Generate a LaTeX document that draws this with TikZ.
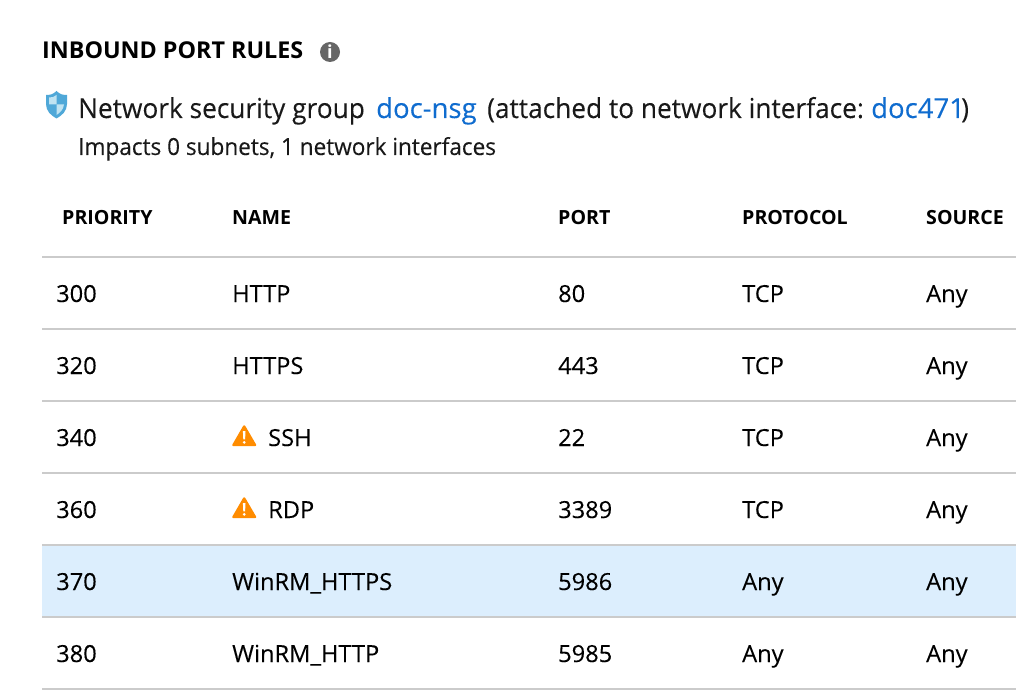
\documentclass[tikz,border=0pt]{standalone}
\usepackage{fontspec}
\setmainfont[FakeStretch=0.96,FakeBold=0.15]{Open Sans}
\newfontfamily\rowf[FakeStretch=1.005,FakeBold=0.15]{Open Sans}
\newfontfamily\hdrf[FakeStretch=1.005]{Open Sans}
\newfontfamily\bigf[FakeStretch=0.955,FakeBold=0.1]{Open Sans}
\newfontfamily\lnkf[FakeStretch=1.0,FakeBold=0.1]{Open Sans}
\begin{document}
\begin{tikzpicture}[x=1pt,y=-1pt,
  txt/.style={inner sep=0pt,anchor=base west,text=black,font=\rowf\fontsize{23.5}{28}\selectfont},
  sub/.style={inner sep=0pt,anchor=base west,text=black!90,font=\fontsize{23.5}{28}\selectfont},
  hdr/.style={inner sep=0pt,anchor=base west,text=black,font=\hdrf\fontsize{19.5}{24}\selectfont\bfseries},
  big/.style={inner sep=0pt,anchor=base west,text=black!90,font=\bigf\fontsize{27.5}{32}\selectfont},
  lnk/.style={inner sep=0pt,anchor=base west,text=linkblue,font=\lnkf\fontsize{27.5}{32}\selectfont},
  rule/.style={draw=rulegray,line width=2pt},
  warn/.pic={
    \fill[warnorange,draw=warnorange,line width=2.4pt,line join=round] (1.5,20) -- (12.2,1.5) -- (23,20) -- cycle;
    \fill[white] (10.9,6) -- (13.5,6) -- (13.1,14.4) -- (11.3,14.4) -- cycle;
    \fill[white] (12.2,17.3) circle (1.5);
  }]
\definecolor{linkblue}{HTML}{0F6CCF}
\definecolor{rulegray}{HTML}{CBCBCB}
\definecolor{warnorange}{HTML}{FF8C00}
\definecolor{rowblue}{HTML}{DCEEFD}
\definecolor{shieldb}{HTML}{4FA8D8}
\definecolor{shieldl}{HTML}{BFE3F2}
\useasboundingbox (0,0) rectangle (1016,700);
\fill[white] (0,0) rectangle (1016,700);
% highlighted row
\fill[rowblue] (42,545) rectangle (1016,617);
% rules
\foreach \y in {257,329,401,473,545,617,689} \draw[rule] (42,\y) -- (1016,\y);
% title
\node[inner sep=0pt,anchor=base west,text=black,font=\hdrf\fontsize{23.2}{28}\selectfont\bfseries] (title) at (42,59) {INBOUND PORT RULES};
\fill[black!60] (330,52) circle (10);
\node[inner sep=0pt,text=white,font=\hdrf\fontsize{18}{18}\selectfont\bfseries] (info) at (330,52) {i};
% shield
\fill[shieldb] (56.5,91) .. controls (53,94.5) and (50,95) .. (46,95) -- (46,104) .. controls (46,111) and (51,115.5) .. (56.5,118.5) .. controls (62,115.5) and (67,111) .. (67,104) -- (67,95) .. controls (63,95) and (60,94.5) .. (56.5,91) -- cycle;
\fill[shieldl] (56.5,95) -- (56.5,104.5) -- (49,104.5) -- (49,97.5) .. controls (52,97.5) and (54.5,97) .. (56.5,95) -- cycle;
\fill[shieldl] (56.5,104.5) -- (64,104.5) .. controls (63.5,109.5) and (60,112.8) .. (56.5,115) -- cycle;
% header lines
\node[big] (n1) at (78,118) {Network security group};
\node[lnk] (n2) at (376,118) {doc-nsg};
\node[big] (n3) at (487,118) {(attached to network interface:};
\node[lnk] (n4) at (871,118) {doc471};
\node[big] (n5) at (961,118) {)};
\node[sub] (imp) at (78,155) {Impacts 0 subnets, 1 network interfaces};
% column heads
\node[hdr] (h1) at (62,225) {PRIORITY};
\node[hdr] (h2) at (232,225) {NAME};
\node[hdr] (h3) at (558,225) {PORT};
\node[hdr] (h4) at (742,225) {PROTOCOL};
\node[hdr] (h5) at (926,225) {SOURCE};
% rows
\foreach \i/\y/\pri/\nm/\po/\pr in {1/302/300/HTTP/80/TCP,2/374/320/HTTPS/443/TCP,5/590/370/WinRM\_HTTPS/5986/Any,6/662/380/WinRM\_HTTP/5985/Any}{
  \node[txt] (pri\i) at (56,\y) {\pri};
  \node[txt] (nam\i) at (232,\y) {\nm};
  \node[txt] (por\i) at (558,\y) {\po};
  \node[txt] (pro\i) at (742,\y) {\pr};
  \node[txt] (src\i) at (926,\y) {Any};
}
\foreach \i/\y/\pri/\nm/\po/\pr in {3/446/340/SSH/22/TCP,4/518/360/RDP/3389/TCP}{
  \node[txt] (pri\i) at (56,\y) {\pri};
  \pic at (232,\y-21) {warn};
  \node[txt] (nam\i) at (268,\y) {\nm};
  \node[txt] (por\i) at (558,\y) {\po};
  \node[txt] (pro\i) at (742,\y) {\pr};
  \node[txt] (src\i) at (926,\y) {Any};
}
\end{tikzpicture}
\end{document}
